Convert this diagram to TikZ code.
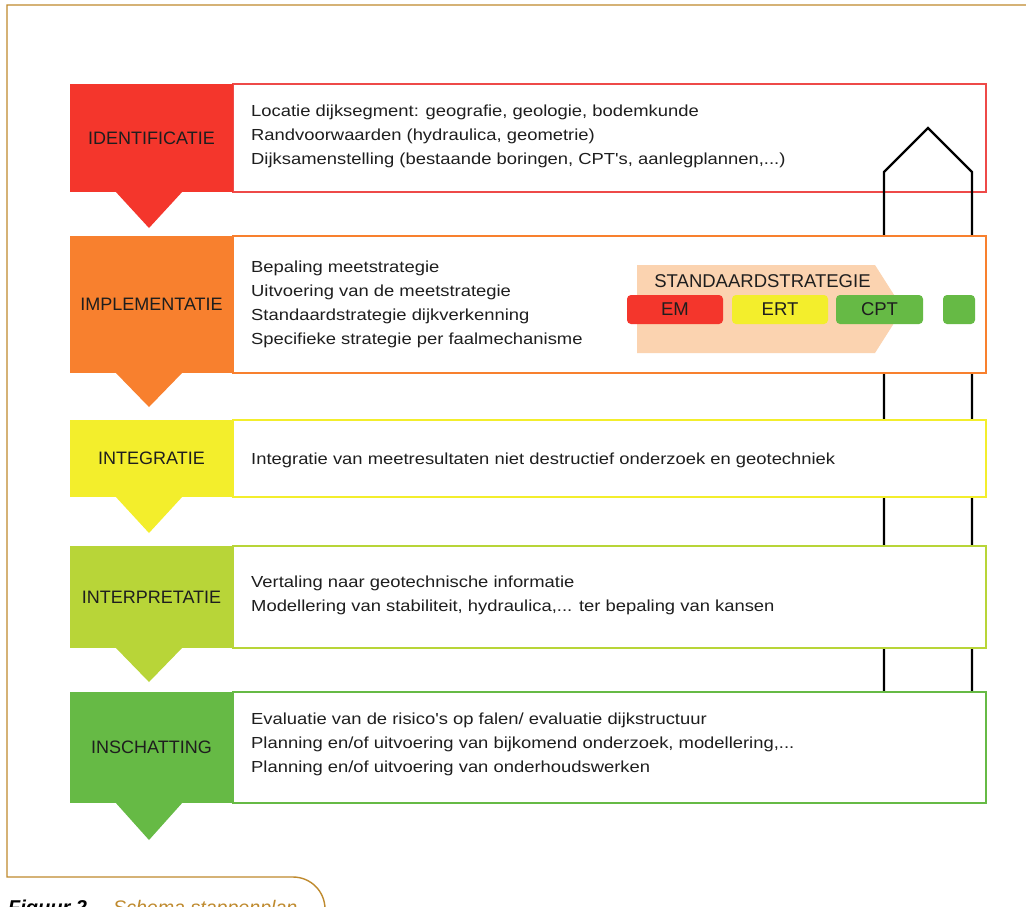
\documentclass[tikz,border=0pt]{standalone}
\usepackage{fontspec}
\setmainfont{Liberation Sans}
\newfontfamily\bodyfont[FakeStretch=1.15]{Liberation Sans}
\definecolor{cRed}{HTML}{F4362C}
\definecolor{cRedLine}{HTML}{EE4A48}
\definecolor{cOrange}{HTML}{F8802E}
\definecolor{cYellow}{HTML}{F3EE2C}
\definecolor{cLime}{HTML}{B8D538}
\definecolor{cGreen}{HTML}{66BA45}
\definecolor{cPeach}{HTML}{FBD3B0}
\definecolor{cGold}{HTML}{BF8A2E}
\definecolor{cText}{HTML}{1E1E1E}
\begin{document}
\begin{tikzpicture}[x=1pt,y=-1pt,
  block/.style={inner sep=0pt,minimum width=163pt,text=cText,font=\fontsize{18}{20}\selectfont},
  txtbox/.style={fill=white,line width=1.8pt,minimum width=753pt,inner sep=0pt},
  body/.style={anchor=west,align=left,inner sep=0pt,text=cText,font=\bodyfont\fontsize{16}{24}\selectfont},
  pill/.style={rounded corners=4pt,minimum height=29pt,inner sep=0pt,text=cText,font=\fontsize{18.5}{20}\selectfont},
  houseline/.style={line width=2.4pt,black,line join=miter}]
\useasboundingbox (0,0) rectangle (1026,906);
\fill[white] (0,0) rectangle (1026,906);
% frame
\coordinate (fA) at (1040,5);
\coordinate (fB) at (7,5);
\coordinate (fC) at (7,877);
\coordinate (fD) at (293,877);
\coordinate (fE) at (325,909);
\coordinate (fF) at (325,940);
\draw[cGold,line width=1.4pt] (fA) -- (fB) -- (fC) -- (fD) arc[start angle=90,end angle=0,radius=32pt] -- (fF);
% caption
\node[anchor=base west,inner sep=0pt,font=\fontsize{20}{22}\selectfont\bfseries\itshape] (capA) at (8,914) {Figuur 2};
\node[anchor=base west,inner sep=0pt,text=cGold,font=\fontsize{19.6}{22}\selectfont\itshape] (capB) at (113,914) {Schema stappenplan};

% ---------- stage 1
\node[txtbox,draw=cRedLine,minimum height=108pt] (t1) at (609.5,138) {};
\node[block,fill=cRed,minimum height=108pt] (b1) at (151.5,138) {IDENTIFICATIE};
\fill[cRed] (115,191) -- (149,228) -- (183,191) -- cycle;
\node[body] (x1) at (251,136.5) {Locatie dijksegment: geografie, geologie, bodemkunde\\Randvoorwaarden (hydraulica, geometrie)\\Dijksamenstelling (bestaande boringen, CPT's, aanlegplannen,...)};

% house
\coordinate (hA) at (884,692);
\coordinate (hB) at (884,172);
\coordinate (hC) at (928,128);
\coordinate (hD) at (972,172);
\coordinate (hE) at (972,692);
\draw[houseline] (hA) -- (hB) -- (hC) -- (hD) -- (hE);

% ---------- stage 2
\node[txtbox,draw=cOrange,minimum height=137pt] (t2) at (609.5,304.5) {};
\node[block,fill=cOrange,minimum height=137pt] (b2) at (151.5,304.5) {IMPLEMENTATIE};
\fill[cOrange] (115,372) -- (149,407) -- (183,372) -- cycle;
\node[body] (x2) at (251,304) {Bepaling meetstrategie\\Uitvoering van de meetstrategie\\Standaardstrategie dijkverkenning\\Specifieke strategie per faalmechanisme};
\fill[cPeach] (637,265) -- (875,265) -- (903,309) -- (875,353) -- (637,353) -- cycle;
\node[inner sep=0pt,text=cText,font=\fontsize{18.5}{20}\selectfont] (std) at (762.5,281) {STANDAARDSTRATEGIE};
\node[pill,fill=cRed,minimum width=96pt] (em) at (675,309.5) {EM};
\node[pill,fill=cYellow,minimum width=96pt] (ert) at (780,309.5) {ERT};
\node[pill,fill=cGreen,minimum width=87pt] (cpt) at (879.5,309.5) {CPT};
\node[pill,fill=cGreen,minimum width=32pt] (ext) at (959,309.5) {};

% ---------- stage 3
\node[txtbox,draw=cYellow,minimum height=77pt] (t3) at (609.5,458.5) {};
\node[block,fill=cYellow,minimum height=77pt] (b3) at (151.5,458.5) {INTEGRATIE};
\fill[cYellow] (115,496) -- (149,533) -- (183,496) -- cycle;
\node[body] (x3) at (251,460) {Integratie van meetresultaten niet destructief onderzoek en geotechniek};

% ---------- stage 4
\node[txtbox,draw=cLime,minimum height=102pt] (t4) at (609.5,597) {};
\node[block,fill=cLime,minimum height=102pt] (b4) at (151.5,597) {INTERPRETATIE};
\fill[cLime] (115,647) -- (149,682) -- (183,647) -- cycle;
\node[body] (x4) at (251,595.5) {Vertaling naar geotechnische informatie\\Modellering van stabiliteit, hydraulica,... ter bepaling van kansen};

% ---------- stage 5
\node[txtbox,draw=cGreen,minimum height=111pt] (t5) at (609.5,747.5) {};
\node[block,fill=cGreen,minimum height=111pt] (b5) at (151.5,747.5) {INSCHATTING};
\fill[cGreen] (115,802) -- (149,840) -- (183,802) -- cycle;
\node[body] (x5) at (251,744.5) {Evaluatie van de risico's op falen/ evaluatie dijkstructuur\\Planning en/of uitvoering van bijkomend onderzoek, modellering,...\\Planning en/of uitvoering van onderhoudswerken};
\end{tikzpicture}
\end{document}
